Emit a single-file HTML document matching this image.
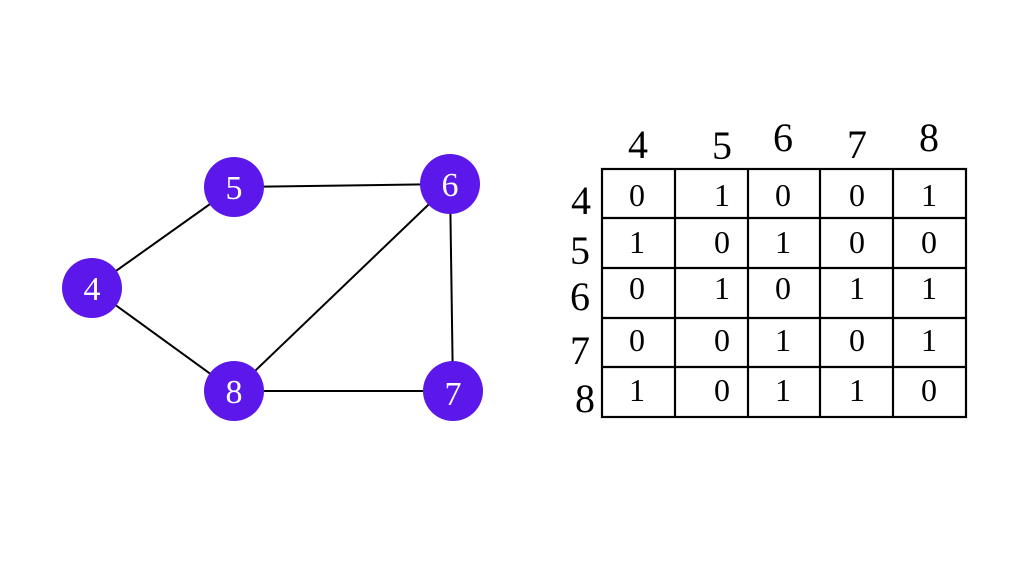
<!DOCTYPE html>
<html><head><meta charset="utf-8"><style>
html,body{margin:0;padding:0;background:#fff;}
svg{display:block;}
text{font-family:"Liberation Serif",serif;text-anchor:middle;}
</style></head><body>
<svg width="1024" height="576" viewBox="0 0 1024 576" xmlns="http://www.w3.org/2000/svg">
<rect width="1024" height="576" fill="#fff"/>
<g stroke="#000" stroke-width="2">
<line x1="92" y1="288" x2="234" y2="187"/>
<line x1="234" y1="187" x2="450" y2="184"/>
<line x1="450" y1="184" x2="453" y2="391"/>
<line x1="450" y1="184" x2="234" y2="391"/>
<line x1="92" y1="288" x2="234" y2="391"/>
<line x1="234" y1="391" x2="453" y2="391"/>
</g>
<g fill="#5c18ea">
<circle cx="92" cy="288" r="30"/>
<circle cx="234" cy="187" r="30"/>
<circle cx="450" cy="184" r="30"/>
<circle cx="234" cy="391" r="30"/>
<circle cx="453" cy="391" r="30"/>
</g>
<g fill="#fff" font-size="34">
<text x="92" y="300">4</text>
<text x="234" y="199">5</text>
<text x="450" y="196">6</text>
<text x="234" y="403">8</text>
<text x="453" y="405">7</text>
</g>
<g stroke="#000" stroke-width="2.2" fill="none">
<rect x="602" y="169" width="364" height="248"/>
<line x1="675" y1="169" x2="675" y2="417"/>
<line x1="748" y1="169" x2="748" y2="417"/>
<line x1="820" y1="169" x2="820" y2="417"/>
<line x1="893" y1="169" x2="893" y2="417"/>
<line x1="602" y1="218" x2="966" y2="218"/>
<line x1="602" y1="268" x2="966" y2="268"/>
<line x1="602" y1="318" x2="966" y2="318"/>
<line x1="602" y1="367" x2="966" y2="367"/>
</g>
<g fill="#000" font-size="40">
<text x="638" y="158">4</text>
<text x="722" y="159">5</text>
<text x="783" y="151">6</text>
<text x="857" y="158">7</text>
<text x="929" y="151">8</text>
<text x="581" y="214">4</text>
<text x="580" y="264">5</text>
<text x="580" y="310">6</text>
<text x="580" y="364">7</text>
<text x="585" y="412">8</text>
</g>
<g fill="#000" font-size="32">
<text x="637" y="206">0</text><text x="722" y="206">1</text><text x="783" y="206">0</text><text x="857" y="206">0</text><text x="929" y="206">1</text>
<text x="637" y="253">1</text><text x="722" y="253">0</text><text x="783" y="253">1</text><text x="857" y="253">0</text><text x="929" y="253">0</text>
<text x="637" y="299">0</text><text x="722" y="299">1</text><text x="783" y="299">0</text><text x="857" y="299">1</text><text x="929" y="299">1</text>
<text x="637" y="351">0</text><text x="722" y="351">0</text><text x="783" y="351">1</text><text x="857" y="351">0</text><text x="929" y="351">1</text>
<text x="637" y="401">1</text><text x="722" y="401">0</text><text x="783" y="401">1</text><text x="857" y="401">1</text><text x="929" y="401">0</text>
</g>
</svg>
</body></html>
